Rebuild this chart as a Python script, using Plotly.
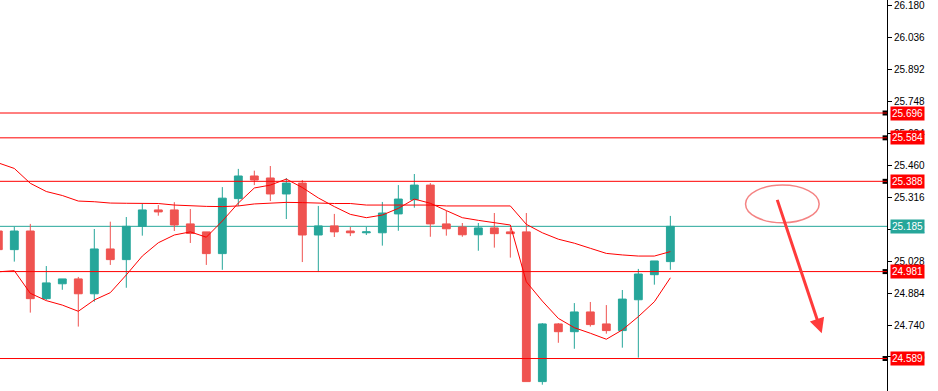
import plotly.graph_objects as go

# ---------------- data ----------------
opens = [25.164, 25.080, 25.164, 24.859, 24.926, 24.948, 24.881, 25.083, 25.035, 25.185,
         25.259, 25.259, 25.196, 25.160, 25.062, 25.310, 25.412, 25.403, 25.331, 25.380,
         25.146, 25.187, 25.164, 25.156, 25.156, 25.241, 25.305, 25.371, 25.196, 25.182,
         25.147, 25.178, 25.160, 25.160, 24.485, 24.745, 24.710, 24.799, 24.745, 24.715,
         24.854, 24.967, 25.026]
highs = [25.173, 25.183, 25.196, 25.006, 24.948, 24.957, 25.173, 25.206, 25.227, 25.287,
         25.281, 25.294, 25.263, 25.160, 25.362, 25.444, 25.436, 25.457, 25.403, 25.394,
         25.277, 25.241, 25.182, 25.182, 25.295, 25.371, 25.421, 25.380, 25.254, 25.200,
         25.200, 25.245, 25.178, 25.245, 24.749, 24.749, 24.839, 24.844, 24.830, 24.898,
         24.993, 25.029, 25.232]
lows = [25.069, 25.026, 24.796, 24.853, 24.899, 24.733, 24.845, 25.011, 24.908, 25.143,
        25.233, 25.164, 25.110, 25.011, 24.989, 25.277, 25.371, 25.299, 25.218, 25.024,
        24.979, 25.137, 25.141, 25.146, 25.098, 25.165, 25.269, 25.138, 25.143, 25.138,
        25.075, 25.089, 25.044, 24.485, 24.471, 24.660, 24.633, 24.733, 24.701, 24.638,
        24.593, 24.922, 24.989]
closes = [25.080, 25.164, 24.859, 24.930, 24.948, 24.881, 25.083, 25.035, 25.185, 25.259,
          25.250, 25.191, 25.153, 25.062, 25.312, 25.412, 25.394, 25.331, 25.380, 25.146,
          25.187, 25.160, 25.156, 25.160, 25.245, 25.308, 25.371, 25.196, 25.174, 25.147,
          25.178, 25.152, 25.152, 24.485, 24.745, 24.710, 24.799, 24.742, 24.715, 24.857,
          24.970, 25.029, 25.185]

ma_fast = [24.980, 24.985, 24.883, 24.850, 24.830, 24.802, 24.853, 24.886, 24.966, 25.051,
           25.111, 25.146, 25.160, 25.136, 25.209, 25.290, 25.358, 25.371, 25.398, 25.360,
           25.313, 25.274, 25.239, 25.224, 25.236, 25.266, 25.308, 25.289, 25.256, 25.224,
           25.212, 25.203, 25.191, 24.935, 24.848, 24.770, 24.728, 24.703, 24.676, 24.718,
           24.778, 24.845, 24.953]
ma_slow = [25.471, 25.446, 25.379, 25.342, 25.324, 25.299, 25.296, 25.290, 25.289, 25.289,
           25.288, 25.281, 25.277, 25.275, 25.274, 25.277, 25.286, 25.290, 25.293, 25.292,
           25.289, 25.288, 25.288, 25.281, 25.281, 25.281, 25.281, 25.281, 25.277, 25.277,
           25.277, 25.277, 25.277, 25.194, 25.156, 25.127, 25.109, 25.086, 25.063, 25.056,
           25.051, 25.051, 25.071]

red_levels = [25.696, 25.584, 25.388, 24.981, 24.589]
teal_levels = [25.185]

tick_values = [26.180, 26.036, 25.892, 25.748, 25.604, 25.460, 25.316, 25.172,
               25.028, 24.884, 24.740, 24.596]

# ---------------- styling ----------------
GREEN = "#26a69a"
RED_C = "#ef5350"
LINE_RED = "#ff0000"
TEAL = "#26a69a"
FONT = "Liberation Sans, Arial"

x = list(range(len(opens)))
x_range = [0.106, 55.54]
y_range = [24.4426, 26.2055]

fig = go.Figure()

fig.add_trace(go.Candlestick(
    x=x, open=opens, high=highs, low=lows, close=closes,
    increasing=dict(line=dict(color=GREEN, width=1), fillcolor=GREEN),
    decreasing=dict(line=dict(color=RED_C, width=1), fillcolor=RED_C),
    whiskerwidth=0, hoverinfo="skip", showlegend=False,
))

for ma in (ma_slow, ma_fast):
    fig.add_trace(go.Scatter(x=x, y=ma, mode="lines",
                             line=dict(color=LINE_RED, width=1),
                             hoverinfo="skip", showlegend=False))

shapes = []
annotations = []
for lv in red_levels:
    shapes.append(dict(type="line", xref="paper", x0=0, x1=1, yref="y", y0=lv, y1=lv,
                       line=dict(color=LINE_RED, width=1), layer="above"))
    annotations.append(dict(xref="paper", x=1, xanchor="left", xshift=3, yref="y", y=lv,
                            text=f"{lv:.3f}", showarrow=False, bgcolor=LINE_RED,
                            font=dict(family=FONT, size=10, color="white"),
                            borderpad=1))
for lv in teal_levels:
    shapes.append(dict(type="line", xref="paper", x0=0, x1=1, yref="y", y0=lv, y1=lv,
                       line=dict(color=TEAL, width=1), layer="below"))
    annotations.append(dict(xref="paper", x=1, xanchor="left", xshift=3, yref="y", y=lv,
                            text=f"{lv:.3f}", showarrow=False, bgcolor=TEAL,
                            font=dict(family=FONT, size=10, color="white"),
                            borderpad=1))

# small black squares on the axis for red levels
fig.add_trace(go.Scatter(x=[x_range[1] - 0.12] * len(red_levels), y=red_levels, mode="markers",
                         marker=dict(symbol="square", size=5, color="black"),
                         cliponaxis=False, hoverinfo="skip", showlegend=False))

# hand-drawn ellipse and arrow
ellipse_box = dict(x0=46.7, x1=51.3, y0=25.201, y1=25.371)
arrow_from = (48.65, 25.311)
arrow_to = (51.46, 24.703)
shapes.append(dict(type="circle", xref="x", yref="y", **ellipse_box,
                   line=dict(color="rgba(240,90,90,0.75)", width=1.5), layer="above"))
annotations.append(dict(x=arrow_to[0], y=arrow_to[1], ax=arrow_from[0], ay=arrow_from[1],
                        xref="x", yref="y", axref="x", ayref="y", text="", showarrow=True,
                        arrowhead=2, arrowsize=1, arrowwidth=3, arrowcolor="#ff3b3b"))

fig.update_layout(
    width=938, height=391,
    margin=dict(l=0, r=51, t=0, b=0),
    paper_bgcolor="white", plot_bgcolor="white",
    showlegend=False, hovermode=False,
    shapes=shapes, annotations=annotations,
    xaxis=dict(range=x_range, visible=False, rangeslider=dict(visible=False),
               showgrid=False, zeroline=False),
    yaxis=dict(range=y_range, side="right", showgrid=False, zeroline=False,
               showline=True, linecolor="black", linewidth=1, mirror=False,
               ticks="outside", ticklen=4, tickcolor="black",
               tickvals=tick_values, ticktext=[f"{v:.3f}" for v in tick_values],
               tickfont=dict(family=FONT, size=10, color="black")),
)

fig.write_html("out.html", config={"displayModeBar": False, "staticPlot": True},
               post_script="document.body.style.margin='0';document.body.style.overflow='hidden';")
